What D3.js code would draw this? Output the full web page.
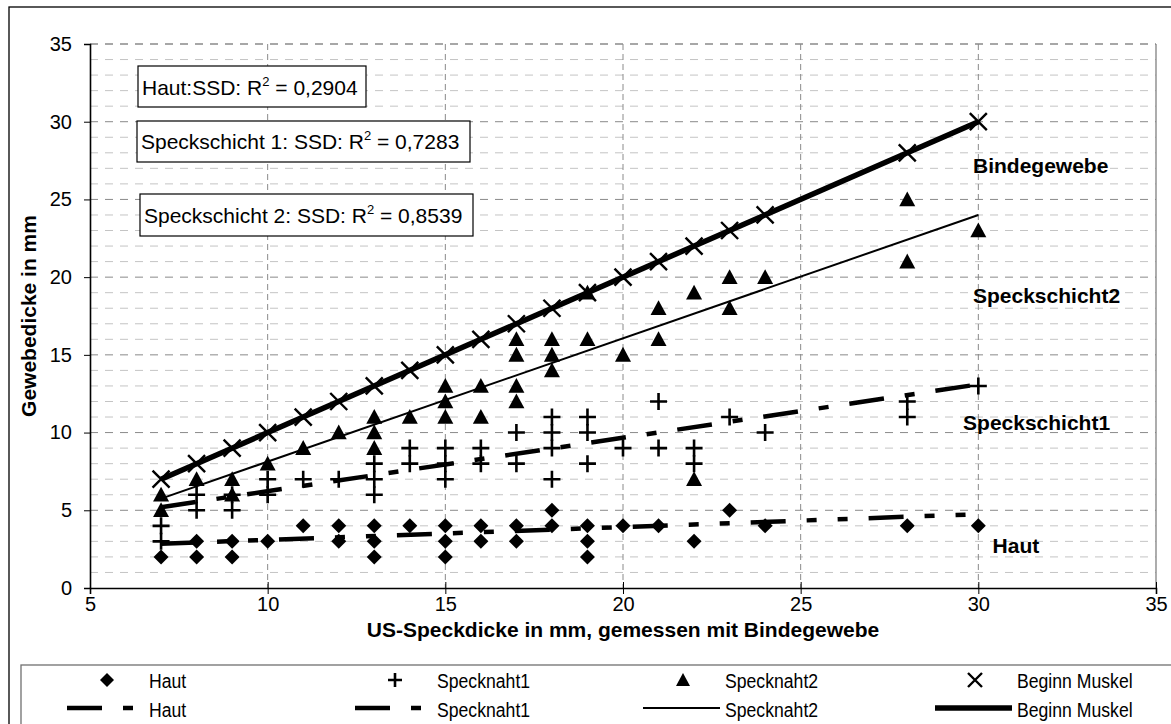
<!DOCTYPE html>
<html>
<head>
<meta charset="utf-8">
<script src="https://cdn.jsdelivr.net/npm/d3@7"></script>
<style>
  body { margin: 0; background: #fff; }
  svg { font-family: "Liberation Sans", Arial, sans-serif; }
</style>
</head>
<body>
<svg id="chart" width="1171" height="724"></svg>
<script>
// x values of the measured animals (US-Speckdicke)
const xCats = [7, 8, 9, 10, 11, 12, 13, 14, 15, 16, 17, 18, 19, 20, 21, 22, 23, 24, 28, 30];

// y values per x (several animals can share the same x)
const hautVals = [[2], [3, 2], [3, 2], [3], [4], [4, 3], [4, 3, 2], [4], [4, 3, 2], [4, 3], [4, 3], [5, 4], [4, 3, 2], [4], [4], [3], [5], [4], [4], [4]];
const speck1Vals = [[4, 3], [6, 5], [6, 5], [7, 6], [7], [7], [8, 7, 6], [9, 8], [9, 8, 7], [9, 8], [10, 8], [11, 10, 9, 7], [11, 10, 8], [9], [12, 9], [9, 8], [11], [10], [12, 11], [13]];
const speck2Vals = [[6, 5], [7], [7, 6], [8], [9], [10], [11, 10, 9], [11], [13, 12, 11], [13, 11], [16, 15, 13, 12], [16, 15, 14], [19, 16], [15], [18, 16], [19, 7], [20, 18], [20], [25, 21], [23]];
const muskelVals = [[7], [8], [9], [10], [11], [12], [13], [14], [15], [16], [17], [18], [19], [20], [21], [22], [23], [24], [28], [30]];

// trend lines, read at both ends
const trendX = [7, 30];
const hautTrend = [2.85, 4.75];
const speck1Trend = [5.2, 13.1];
const speck2Trend = [5.75, 24.0];
const muskelTrend = [7, 30];

const xTicks = [5, 10, 15, 20, 25, 30, 35];
const yTicks = [0, 5, 10, 15, 20, 25, 30, 35];

const legendNames = ["Haut", "Specknaht1", "Specknaht2", "Beginn Muskel"];
const r2Labels = [
  { pre: "Haut:SSD: R", val: " = 0,2904" },
  { pre: "Speckschicht 1: SSD: R", val: " = 0,7283" },
  { pre: "Speckschicht 2: SSD: R", val: " = 0,8539" }
];
const sideLabels = ["Bindegewebe", "Speckschicht2", "Speckschicht1", "Haut"];

function pairs(vals) {
  const out = [];
  vals.forEach((ys, i) => ys.forEach(v => out.push({ x: xCats[i], y: v })));
  return out;
}
function trend(ys) {
  return trendX.map((x, i) => ({ x: x, y: ys[i] }));
}

const svg = d3.select("#chart");
const x = d3.scaleLinear().domain([5, 35]).range([90, 1156]);
const y = d3.scaleLinear().domain([0, 35]).range([588, 44]);

// outer chart frame
svg.append("rect")
  .attr("x", 9).attr("y", 7).attr("width", 1200).attr("height", 760)
  .attr("fill", "#fff").attr("stroke", "#000").attr("stroke-width", 1.3);

// minor horizontal grid
const minor = d3.range(1, 35).filter(v => v % 5 !== 0);
svg.append("g").selectAll("line").data(minor).join("line")
  .attr("x1", x(5)).attr("x2", x(35))
  .attr("y1", d => y(d)).attr("y2", d => y(d))
  .attr("stroke", "#c4c4c4").attr("stroke-dasharray", "8,7");

// major horizontal grid
svg.append("g").selectAll("line").data(yTicks.slice(1)).join("line")
  .attr("x1", x(5)).attr("x2", x(35))
  .attr("y1", d => y(d)).attr("y2", d => y(d))
  .attr("stroke", "#8a8a8a").attr("stroke-width", d => d === 35 ? 1.6 : 1)
  .attr("stroke-dasharray", "8,7");

// vertical grid
svg.append("g").selectAll("line").data(xTicks.slice(1, -1)).join("line")
  .attr("x1", d => x(d)).attr("x2", d => x(d))
  .attr("y1", y(35)).attr("y2", y(0))
  .attr("stroke", "#8a8a8a").attr("stroke-dasharray", "6,4");

// right border of plot
svg.append("line")
  .attr("x1", x(35)).attr("x2", x(35)).attr("y1", y(35)).attr("y2", y(0))
  .attr("stroke", "#808080").attr("stroke-width", 1.3);

// axes
const gx = svg.append("g").attr("transform", `translate(0,${y(0)})`)
  .call(d3.axisBottom(x).tickValues(xTicks).tickSize(6).tickPadding(3));
gx.selectAll(".tick line").attr("y1", -6);
const gy = svg.append("g").attr("transform", `translate(${x(5)},0)`)
  .call(d3.axisLeft(y).tickValues(yTicks).tickSize(6).tickPadding(12));
[gx, gy].forEach(g => {
  g.select(".domain").attr("stroke", "#000").attr("stroke-width", 1.6);
  g.selectAll(".tick line").attr("stroke", "#000");
  g.selectAll(".tick text").attr("font-size", 20).attr("fill", "#000")
    .attr("font-family", "Liberation Sans, Arial, sans-serif");
});

// axis titles
svg.append("text")
  .attr("x", (x(5) + x(35)) / 2).attr("y", 637)
  .attr("text-anchor", "middle").attr("font-size", 21).attr("font-weight", "bold")
  .text("US-Speckdicke in mm, gemessen mit Bindegewebe");
svg.append("text")
  .attr("transform", `translate(36,${(y(0) + y(35)) / 2}) rotate(-90)`)
  .attr("text-anchor", "middle").attr("font-size", 21).attr("font-weight", "bold")
  .text("Gewebedicke in mm");

// trend lines
const line = d3.line().x(d => x(d.x)).y(d => y(d.y));
const lineStyles = [
  { data: hautTrend, width: 4.5, dash: "35,21,10,21,10,21" },
  { data: speck1Trend, width: 4.5, dash: "35,21,10,21" },
  { data: speck2Trend, width: 2, dash: null },
  { data: muskelTrend, width: 5.5, dash: null }
];
lineStyles.forEach(s => {
  svg.append("path").datum(trend(s.data))
    .attr("fill", "none").attr("stroke", "#000")
    .attr("stroke-width", s.width)
    .attr("stroke-dasharray", s.dash)
    .attr("d", line);
});

// markers
function marker(g, type, size) {
  const h = size / 2;
  if (type === "cross") {
    g.append("path").attr("d", `M${-h},0H${h}M0,${-h}V${h}`)
      .attr("stroke", "#000").attr("stroke-width", 2.6).attr("fill", "none");
  } else if (type === "x") {
    g.append("path").attr("d", `M${-h},${-h}L${h},${h}M${-h},${h}L${h},${-h}`)
      .attr("stroke", "#000").attr("stroke-width", 2.4).attr("fill", "none");
  } else if (type === "diamond") {
    g.append("path").attr("d", `M0,${-h}L${h},0L0,${h}L${-h},0Z`).attr("fill", "#000");
  } else {
    g.append("path").attr("d", `M0,${-h}L${h},${h * 0.85}L${-h},${h * 0.85}Z`).attr("fill", "#000");
  }
}
const series = [
  { vals: hautVals, type: "diamond", size: 15 },
  { vals: speck1Vals, type: "cross", size: 17 },
  { vals: speck2Vals, type: "triangle", size: 16 },
  { vals: muskelVals, type: "x", size: 17 }
];
series.forEach(s => {
  pairs(s.vals).forEach(p => {
    const g = svg.append("g").attr("transform", `translate(${x(p.x)},${y(p.y)})`);
    marker(g, s.type, s.size);
  });
});

// R^2 boxes
const boxes = [
  { bx: 138, by: 66, bw: 228, bh: 41, tx: 142, ty: 95 },
  { bx: 137, by: 121, bw: 333, bh: 41, tx: 141, ty: 149 },
  { bx: 140, by: 194, bw: 333, bh: 42, tx: 144, ty: 223 }
];
r2Labels.forEach((lab, i) => {
  const b = boxes[i];
  svg.append("rect").attr("x", b.bx).attr("y", b.by).attr("width", b.bw).attr("height", b.bh)
    .attr("fill", "#fff").attr("stroke", "#000").attr("stroke-width", 1.2);
  const t = svg.append("text").attr("x", b.tx).attr("y", b.ty).attr("font-size", 21);
  t.append("tspan").text(lab.pre);
  t.append("tspan").attr("font-size", 13).attr("dy", -9).text("2");
  t.append("tspan").attr("dy", 9).text(lab.val);
});

// labels to the right of the lines
const sidePos = [
  { x: 29.85, y: 26.7 },
  { x: 29.85, y: 18.35 },
  { x: 29.57, y: 10.15 },
  { x: 30.4, y: 2.25 }
];
sideLabels.forEach((t, i) => {
  svg.append("text").attr("x", x(sidePos[i].x)).attr("y", y(sidePos[i].y))
    .attr("font-size", 21).attr("font-weight", "bold").text(t);
});

// legend
svg.append("rect").attr("x", 21).attr("y", 665).attr("width", 1200).attr("height", 100)
  .attr("fill", "#fff").attr("stroke", "#707070").attr("stroke-width", 1.3);
const legendCols = [107, 395, 683, 975];
const markerTypes = ["diamond", "cross", "triangle", "x"];
legendNames.forEach((name, i) => {
  const cx = legendCols[i];
  const g = svg.append("g").attr("transform", `translate(${cx},680)`);
  marker(g, markerTypes[i], 14);
  svg.append("path")
    .attr("d", `M${cx - 40},708H${cx + 37}`)
    .attr("stroke", "#000").attr("fill", "none")
    .attr("stroke-width", lineStyles[i].width)
    .attr("stroke-dasharray", lineStyles[i].dash);
  [688, 717].forEach(by => {
    svg.append("text")
      .attr("transform", `translate(${cx + 42},${by}) scale(0.84,1)`)
      .attr("font-size", 21).text(name);
  });
});
</script>
</body>
</html>
